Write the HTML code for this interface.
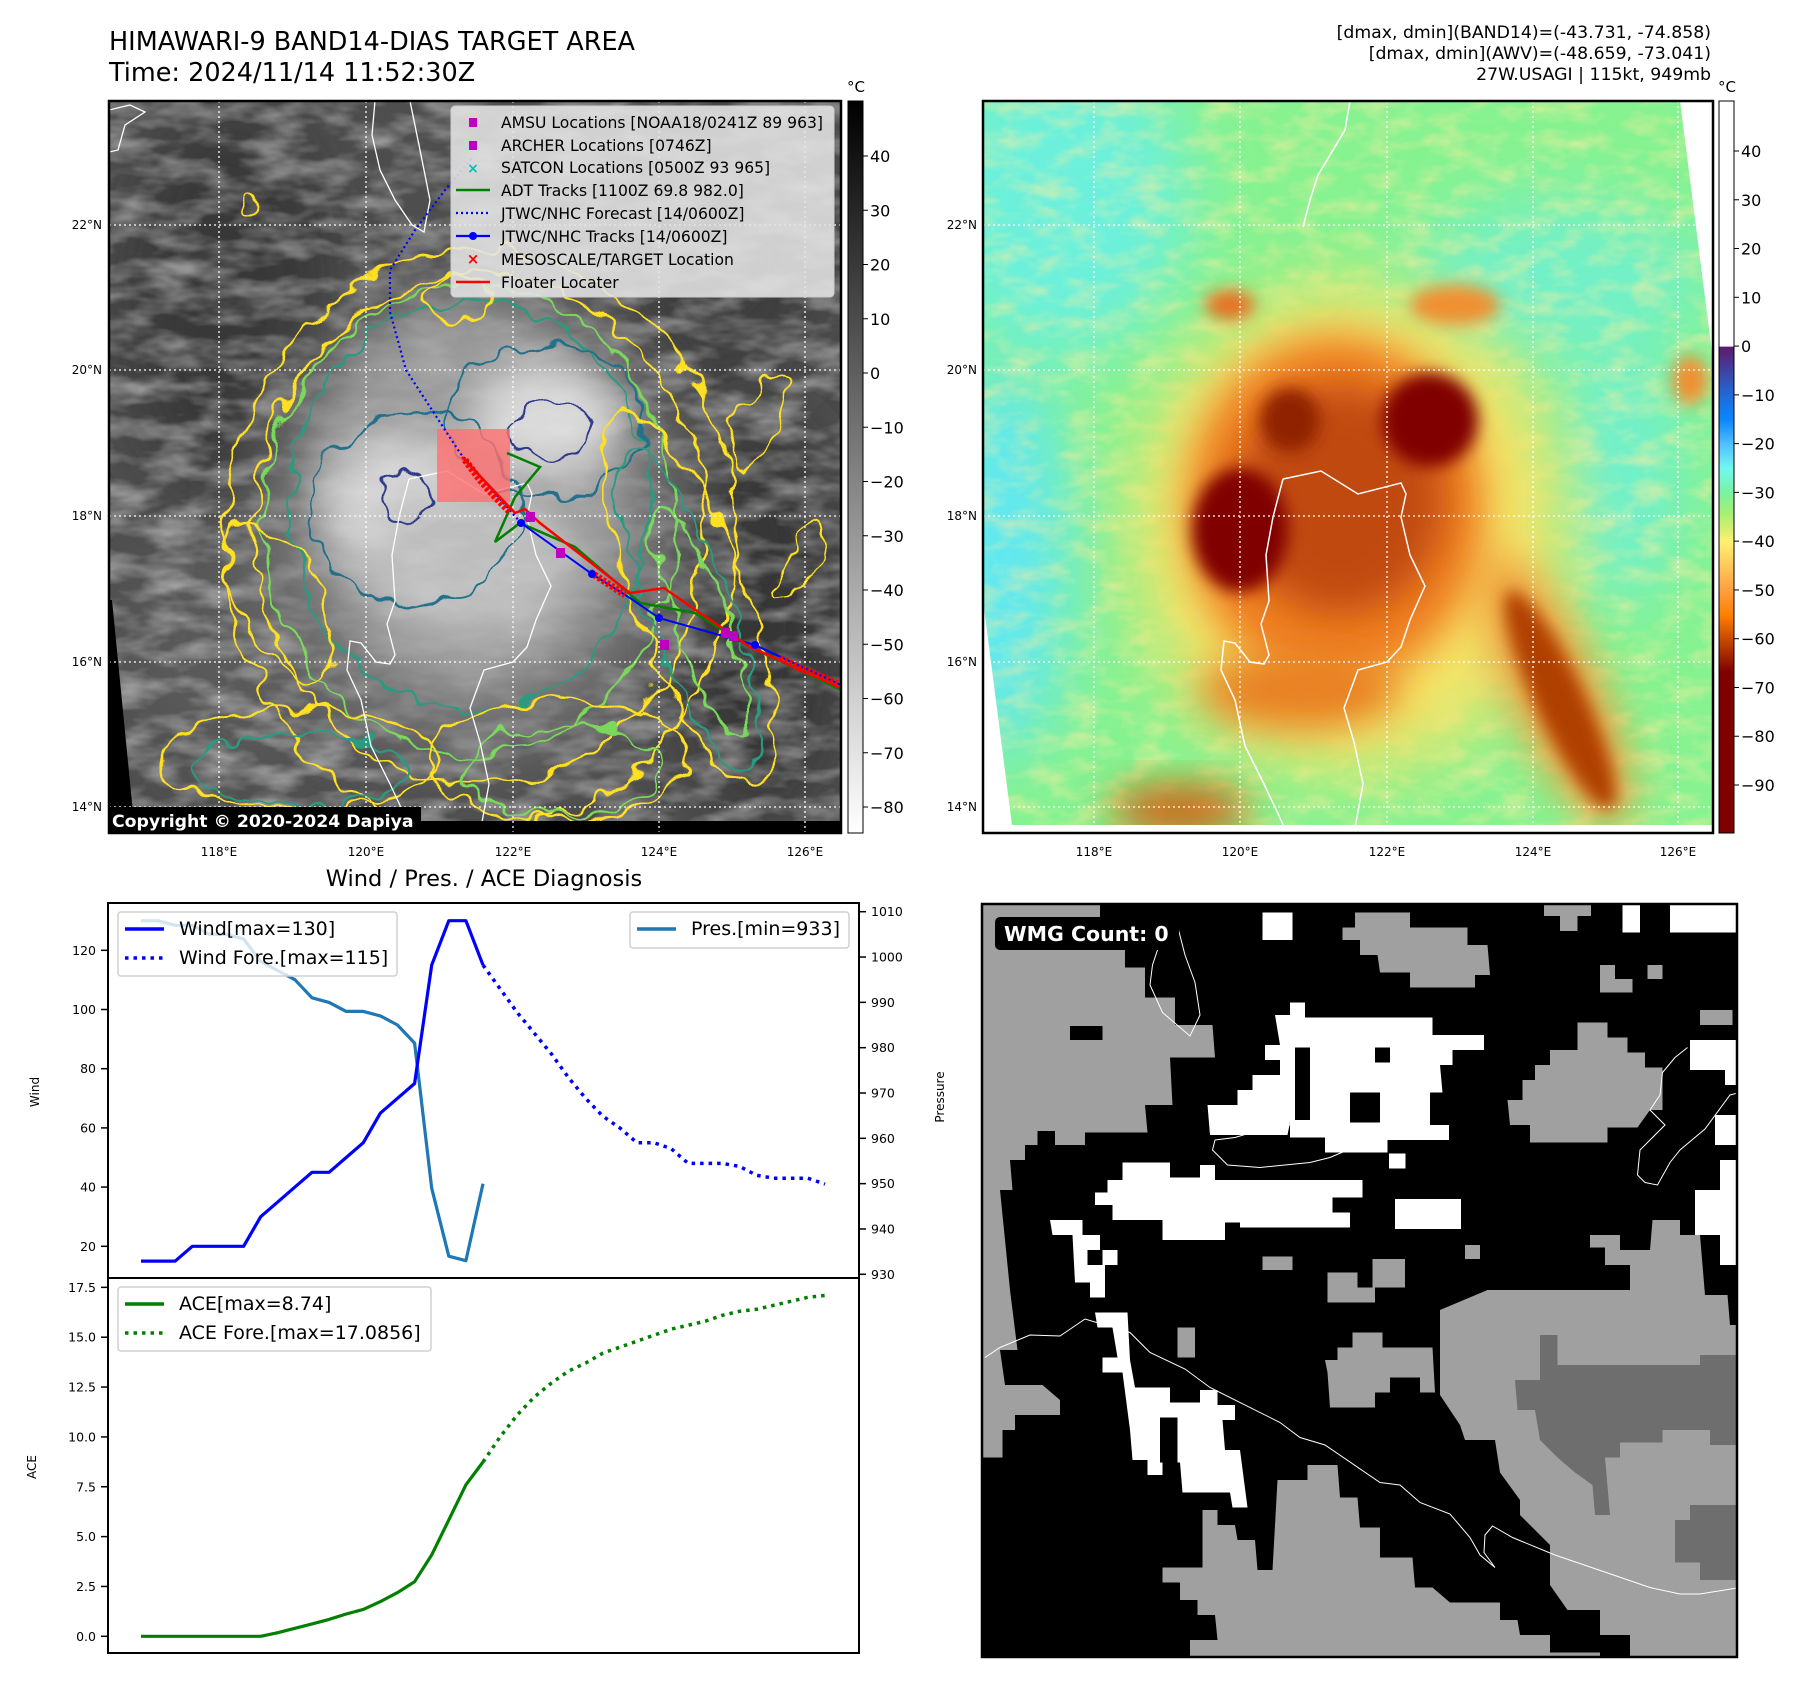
<!DOCTYPE html>
<html><head><meta charset="utf-8"><style>
html,body{margin:0;padding:0;background:#fff;}
svg{display:block;font-family:"DejaVu Sans","Liberation Sans",sans-serif;}
</style></head><body>
<svg id="fig" width="1801" height="1690" viewBox="0 0 1801 1690" xmlns="http://www.w3.org/2000/svg">
<defs>
<clipPath id="clipL"><rect x="109" y="101" width="732" height="732"/></clipPath>
<clipPath id="clipR"><rect x="983" y="101" width="730" height="732"/></clipPath>
<clipPath id="clipB"><rect x="982" y="904" width="755" height="753"/></clipPath>
<filter id="b8" x="-50%" y="-50%" width="200%" height="200%"><feGaussianBlur stdDeviation="8"/></filter>
<filter id="b20" x="-50%" y="-50%" width="200%" height="200%"><feGaussianBlur stdDeviation="20"/></filter>
<filter id="b35" x="-50%" y="-50%" width="200%" height="200%"><feGaussianBlur stdDeviation="35"/></filter>
<filter id="wob" x="-30%" y="-30%" width="160%" height="160%"><feTurbulence type="fractalNoise" baseFrequency="0.035" numOctaves="2" seed="4"/><feDisplacementMap in="SourceGraphic" scale="30" xChannelSelector="R" yChannelSelector="G"/></filter>
<filter id="noiseG" x="0" y="0" width="100%" height="100%"><feTurbulence type="fractalNoise" baseFrequency="0.02 0.05" numOctaves="3" seed="7"/><feColorMatrix type="matrix" values="0 0 0 0 1  0 0 0 0 1  0 0 0 0 1  1.2 0 0 0 -0.45"/></filter>
<filter id="noiseO" x="0" y="0" width="100%" height="100%"><feTurbulence type="fractalNoise" baseFrequency="0.03 0.06" numOctaves="3" seed="2"/><feColorMatrix type="matrix" values="0 0 0 0 1  0 0 0 0 0.85  0 0 0 0 0.35  1.6 0 0 0 -0.65"/></filter>
<linearGradient id="cbL" x1="0" y1="0" x2="0" y2="1"><stop offset="0" stop-color="#000"/><stop offset="1" stop-color="#fff"/></linearGradient>
<linearGradient id="cbR" x1="0" y1="0" x2="0" y2="1">
<stop offset="0" stop-color="#fff"/><stop offset="0.335" stop-color="#fff"/>
<stop offset="0.336" stop-color="#5e1a6e"/><stop offset="0.402" stop-color="#1f6ad8"/>
<stop offset="0.435" stop-color="#0a86ff"/><stop offset="0.469" stop-color="#50c0ff"/>
<stop offset="0.502" stop-color="#70f8f0"/><stop offset="0.535" stop-color="#78f4a0"/>
<stop offset="0.565" stop-color="#a8f070"/><stop offset="0.602" stop-color="#fff070"/>
<stop offset="0.668" stop-color="#ffa040"/><stop offset="0.702" stop-color="#ff8000"/>
<stop offset="0.735" stop-color="#c84a00"/><stop offset="0.78" stop-color="#800000"/>
<stop offset="1" stop-color="#800000"/></linearGradient>
</defs>

<!-- titles -->
<text x="109" y="50" font-size="25.5">HIMAWARI-9 BAND14-DIAS TARGET AREA</text>
<text x="109" y="81" font-size="25.5">Time: 2024/11/14 11:52:30Z</text>
<g font-size="17.3" text-anchor="end">
<text x="1711" y="38">[dmax, dmin](BAND14)=(-43.731, -74.858)</text>
<text x="1711" y="59">[dmax, dmin](AWV)=(-48.659, -73.041)</text>
<text x="1711" y="80">27W.USAGI | 115kt, 949mb</text>
</g>

<!-- LEFT MAP -->
<g clip-path="url(#clipL)">
<rect x="109" y="101" width="732" height="732" fill="#4e4e4e"/>
<ellipse cx="230" cy="300" rx="110" ry="200" fill="#383838" filter="url(#b35)"/>
<ellipse cx="720" cy="250" rx="110" ry="140" fill="#3c3c3c" filter="url(#b35)"/>
<ellipse cx="760" cy="620" rx="80" ry="200" fill="#363636" filter="url(#b35)"/>
<ellipse cx="250" cy="650" rx="130" ry="120" fill="#5a5a5a" filter="url(#b35)"/>
<rect x="109" y="101" width="732" height="732" filter="url(#noiseG)" opacity="0.6"/>
<ellipse cx="470" cy="520" rx="210" ry="240" fill="#747474" filter="url(#b35)"/>
<ellipse cx="470" cy="500" rx="160" ry="190" fill="#9a9a9a" filter="url(#b20)"/>
<ellipse cx="545" cy="420" rx="75" ry="55" fill="#d8d8d8" filter="url(#b20)"/>
<ellipse cx="405" cy="505" rx="80" ry="70" fill="#d4d4d4" filter="url(#b20)"/>
<ellipse cx="470" cy="560" rx="105" ry="75" fill="#bdbdbd" filter="url(#b20)"/>
<rect x="109" y="101" width="732" height="732" filter="url(#noiseG)" opacity="0.25"/>
<g fill="none" filter="url(#wob)">
<ellipse cx="480" cy="540" rx="255" ry="290" stroke="#ffe020" stroke-width="2.5"/>
<ellipse cx="480" cy="530" rx="225" ry="255" stroke="#ffe020" stroke-width="2.5"/>
<ellipse cx="470" cy="520" rx="205" ry="235" stroke="#7ad85a" stroke-width="2.5"/>
<ellipse cx="470" cy="505" rx="180" ry="205" stroke="#2a9a80" stroke-width="2.5"/>
<ellipse cx="545" cy="420" rx="100" ry="75" stroke="#20708a" stroke-width="2.5"/>
<ellipse cx="415" cy="510" rx="105" ry="95" stroke="#20708a" stroke-width="2.5"/>
<ellipse cx="545" cy="430" rx="40" ry="30" stroke="#303a8a" stroke-width="2.5"/>
<ellipse cx="405" cy="495" rx="22" ry="30" stroke="#303a8a" stroke-width="2.5"/>
<ellipse cx="690" cy="600" rx="55" ry="200" transform="rotate(-20 690 600)" stroke="#ffe020" stroke-width="2.5"/>
<ellipse cx="690" cy="610" rx="40" ry="170" transform="rotate(-20 690 610)" stroke="#2a9a80" stroke-width="2.5"/>
<ellipse cx="700" cy="620" rx="25" ry="120" transform="rotate(-20 700 620)" stroke="#7ad85a" stroke-width="2.5"/>
<ellipse cx="300" cy="760" rx="140" ry="50" stroke="#ffe020" stroke-width="2.5"/>
<ellipse cx="560" cy="760" rx="130" ry="60" stroke="#ffe020" stroke-width="2.5"/>
<ellipse cx="560" cy="770" rx="100" ry="45" stroke="#7ad85a" stroke-width="2.5"/>
<ellipse cx="300" cy="770" rx="110" ry="35" stroke="#2a9a80" stroke-width="2.5"/>
<ellipse cx="280" cy="600" rx="40" ry="90" transform="rotate(-30 280 600)" stroke="#ffe020" stroke-width="2.5"/>
<ellipse cx="460" cy="300" rx="30" ry="22" stroke="#ffe020" stroke-width="2.5"/>
<ellipse cx="250" cy="205" rx="6" ry="10" stroke="#ffe020" stroke-width="2"/>
<ellipse cx="760" cy="420" rx="20" ry="50" transform="rotate(30 760 420)" stroke="#ffe020" stroke-width="2"/>
<ellipse cx="800" cy="560" rx="15" ry="45" transform="rotate(30 800 560)" stroke="#ffe020" stroke-width="2"/>
</g>
<g fill="none" stroke="#fff" stroke-width="1.3">
<path d="M375,101 L372,135 L380,170 L395,200 L412,225 L424,232 L430,200 L420,150 L410,101"/>
<path d="M109,110 L130,105 L145,112 L125,125 L118,150 L109,152"/>
</g>
<g transform="translate(-874,0)" fill="none" stroke="#fff" stroke-width="1.3">
<path d="M1283,479 L1321,471 L1358,494 L1401,483 L1406,494 L1401,517 L1410,555 L1425,586 L1410,620 L1401,647 L1387,662 L1358,670 L1344,708 L1354,742 L1363,784 L1354,833"/>
<path d="M1283,479 L1273,517 L1266,555 L1269,601 L1261,624 L1269,655 L1264,664 L1250,662 L1235,643 L1224,641 L1221,670 L1235,700 L1245,746 L1264,784 L1287,833"/>
</g>
<polygon points="109,600 112,600 135,833 109,833" fill="#000"/>
<rect x="109" y="821" width="732" height="12" fill="#000"/>
<g stroke="#fff" stroke-width="1.3" stroke-dasharray="2,3">
<line x1="109" x2="841" y1="225" y2="225"/><line x1="109" x2="841" y1="370" y2="370"/><line x1="109" x2="841" y1="516" y2="516"/><line x1="109" x2="841" y1="662" y2="662"/><line x1="109" x2="841" y1="807" y2="807"/>
<line y1="101" y2="833" x1="219" x2="219"/><line y1="101" y2="833" x1="366" x2="366"/><line y1="101" y2="833" x1="513" x2="513"/><line y1="101" y2="833" x1="659" x2="659"/><line y1="101" y2="833" x1="805" x2="805"/>
</g>
<rect x="437" y="429" width="73" height="73" fill="#ff7070" opacity="0.8"/>
<polyline points="521,523 460,453 406,370 390,312 390,270 415,230 445,190 473,157" fill="none" stroke="#0000ff" stroke-width="2.2" stroke-dasharray="2,3"/>
<polyline points="507,453 540,467 515,497 495,542 520,523 575,547 640,603 695,613 750,647 841,690" fill="none" stroke="#008000" stroke-width="2.5"/>
<polyline points="521,523 592,574 630,598 659,618 755,645 841,685" fill="none" stroke="#0000ff" stroke-width="2"/>
<polyline points="462,457 515,513 525,509 540,523 630,593 664,588 700,613 750,647 841,688" fill="none" stroke="#ff0000" stroke-width="2.5"/>
<polyline points="465,460 480,480 495,497 510,512" fill="none" stroke="#ff0000" stroke-width="7" stroke-dasharray="3,2"/>
<polyline points="590,572 610,585 625,595" fill="none" stroke="#ff0000" stroke-width="7" stroke-dasharray="3,2"/>
<polyline points="780,658 800,668 820,676 838,684" fill="none" stroke="#ff0000" stroke-width="7" stroke-dasharray="3,2"/>
<circle cx="521" cy="523" r="4" fill="#0000ff"/><circle cx="592" cy="574" r="4" fill="#0000ff"/><circle cx="659" cy="618" r="4" fill="#0000ff"/><circle cx="755" cy="645" r="4" fill="#0000ff"/>
<g fill="#c000c0"><rect x="526" y="512" width="9" height="10"/><rect x="556" y="548" width="9" height="10"/><rect x="660" y="640" width="9" height="10"/><rect x="721" y="628" width="9" height="10"/><rect x="729" y="631" width="9" height="10"/></g>
</g>
<rect x="109" y="101" width="732" height="732" fill="none" stroke="#000" stroke-width="2.5"/>
<rect x="109" y="807" width="312" height="26" fill="#000"/>
<text x="112" y="827" font-size="17.3" font-weight="bold" fill="#fff">Copyright © 2020-2024 Dapiya</text>

<!-- left map legend -->
<g>
<rect x="451" y="106" width="383" height="191" rx="4" fill="#e4e4e4" fill-opacity="0.88" stroke="#ccc"/>
<g font-size="15.6" fill="#000">
<rect x="469" y="118" width="8" height="9" fill="#c000c0"/><text x="501" y="128">AMSU Locations [NOAA18/0241Z 89 963]</text>
<rect x="469" y="141" width="8" height="9" fill="#c000c0"/><text x="501" y="151">ARCHER Locations [0746Z]</text>
<text x="473" y="173" fill="#00c0c0" font-size="14" text-anchor="middle" font-weight="bold">×</text><text x="501" y="173">SATCON Locations [0500Z 93 965]</text>
<line x1="456" x2="490" y1="190" y2="190" stroke="#008000" stroke-width="2.5"/><text x="501" y="196">ADT Tracks [1100Z 69.8 982.0]</text>
<line x1="456" x2="490" y1="213" y2="213" stroke="#0000ff" stroke-width="2.2" stroke-dasharray="2,3"/><text x="501" y="219">JTWC/NHC Forecast [14/0600Z]</text>
<line x1="456" x2="490" y1="236" y2="236" stroke="#0000ff" stroke-width="2.2"/><circle cx="473" cy="236" r="4" fill="#0000ff"/><text x="501" y="242">JTWC/NHC Tracks [14/0600Z]</text>
<text x="473" y="264" fill="#ff0000" font-size="15" text-anchor="middle" font-weight="bold">×</text><text x="501" y="265">MESOSCALE/TARGET Location</text>
<line x1="456" x2="490" y1="282" y2="282" stroke="#ff0000" stroke-width="2.5"/><text x="501" y="288">Floater Locater</text>
</g></g>

<!-- RIGHT MAP -->
<g clip-path="url(#clipR)">
<rect x="983" y="101" width="730" height="732" fill="#86f290"/>
<ellipse cx="1060" cy="200" rx="130" ry="160" fill="#6cf0dc" filter="url(#b35)"/>
<ellipse cx="1000" cy="560" rx="70" ry="200" fill="#60e8f2" filter="url(#b35)"/>
<ellipse cx="1560" cy="280" rx="150" ry="80" fill="#72f0c8" filter="url(#b35)"/>
<ellipse cx="1620" cy="470" rx="60" ry="140" fill="#6ef0d0" filter="url(#b35)"/>
<rect x="983" y="101" width="730" height="732" filter="url(#noiseO)" opacity="0.7"/>
<ellipse cx="1350" cy="530" rx="215" ry="240" fill="#f6e468" filter="url(#b35)"/>
<ellipse cx="1555" cy="690" rx="45" ry="150" transform="rotate(-25 1555 690)" fill="#f0a040" filter="url(#b20)"/>
<ellipse cx="1560" cy="700" rx="25" ry="120" transform="rotate(-25 1560 700)" fill="#b04000" filter="url(#b8)"/>
<ellipse cx="1180" cy="810" rx="70" ry="25" fill="#d06010" filter="url(#b20)"/>
<ellipse cx="1335" cy="510" rx="150" ry="175" fill="#f08020" filter="url(#b20)"/>
<ellipse cx="1300" cy="690" rx="100" ry="40" fill="#e88020" filter="url(#b20)"/>
<ellipse cx="1340" cy="500" rx="105" ry="115" fill="#b84008" filter="url(#b20)" opacity="0.85"/>
<ellipse cx="1430" cy="420" rx="48" ry="47" fill="#800000" filter="url(#b8)"/>
<ellipse cx="1240" cy="530" rx="48" ry="62" fill="#800000" filter="url(#b8)"/>
<ellipse cx="1290" cy="420" rx="30" ry="32" fill="#902000" filter="url(#b8)"/>
<ellipse cx="1455" cy="305" rx="45" ry="20" fill="#f09030" filter="url(#b8)"/>
<ellipse cx="1230" cy="305" rx="25" ry="15" fill="#e87020" filter="url(#b8)"/>
<ellipse cx="1690" cy="380" rx="18" ry="25" fill="#f09030" filter="url(#b8)"/>
<g fill="none" stroke="#fff" stroke-width="1.5">
<path d="M1283,479 L1321,471 L1358,494 L1401,483 L1406,494 L1401,517 L1410,555 L1425,586 L1410,620 L1401,647 L1387,662 L1358,670 L1344,708 L1354,742 L1363,784 L1354,833"/>
<path d="M1283,479 L1273,517 L1266,555 L1269,601 L1261,624 L1269,655 L1264,664 L1250,662 L1235,643 L1224,641 L1221,670 L1235,700 L1245,746 L1264,784 L1287,833"/>
<path d="M1350,101 L1345,130 L1330,155 L1318,175 L1310,200 L1303,227"/>
</g>
<polygon points="1680,101 1713,101 1713,360" fill="#fff"/>
<polygon points="983,600 983,833 1013,833" fill="#fff"/>
<rect x="983" y="825" width="730" height="8" fill="#fff"/>
<g stroke="#fff" stroke-width="1.3" stroke-dasharray="2,3">
<line x1="983" x2="1713" y1="225" y2="225"/><line x1="983" x2="1713" y1="370" y2="370"/><line x1="983" x2="1713" y1="516" y2="516"/><line x1="983" x2="1713" y1="662" y2="662"/><line x1="983" x2="1713" y1="807" y2="807"/>
<line y1="101" y2="833" x1="1094" x2="1094"/><line y1="101" y2="833" x1="1240" x2="1240"/><line y1="101" y2="833" x1="1387" x2="1387"/><line y1="101" y2="833" x1="1533" x2="1533"/><line y1="101" y2="833" x1="1678" x2="1678"/>
</g>
</g>
<rect x="983" y="101" width="730" height="732" fill="none" stroke="#000" stroke-width="2.5"/>

<g font-size="12" text-anchor="end">
<text x="102" y="229">22°N</text><text x="102" y="374">20°N</text><text x="102" y="520">18°N</text><text x="102" y="666">16°N</text><text x="102" y="811">14°N</text>
<text x="977" y="229">22°N</text><text x="977" y="374">20°N</text><text x="977" y="520">18°N</text><text x="977" y="666">16°N</text><text x="977" y="811">14°N</text>
</g>
<g font-size="12" text-anchor="middle">
<text x="219" y="856">118°E</text><text x="366" y="856">120°E</text><text x="513" y="856">122°E</text><text x="659" y="856">124°E</text><text x="805" y="856">126°E</text>
<text x="1094" y="856">118°E</text><text x="1240" y="856">120°E</text><text x="1387" y="856">122°E</text><text x="1533" y="856">124°E</text><text x="1678" y="856">126°E</text>
</g>

<rect x="848" y="101" width="15" height="732" fill="url(#cbL)" stroke="#000" stroke-width="1"/>
<text x="856" y="92" font-size="15" text-anchor="middle">°C</text>
<rect x="1719" y="101" width="15" height="732" fill="url(#cbR)" stroke="#000" stroke-width="1"/>
<text x="1727" y="92" font-size="15" text-anchor="middle">°C</text>
<g id="cbTicks"></g>

<!-- BOTTOM RIGHT WMG MAP -->
<g clip-path="url(#clipB)">
<rect x="982" y="904" width="755" height="753" fill="#000"/>
<g transform="translate(980,890) scale(0.5)">
<g fill="#a0a0a0">
<polygon points="5,30 240,30 240,55 290,55 290,155 330,155 330,185 390,185 390,270 465,270 470,335 380,335 385,430 330,430 335,485 210,485 210,510 150,510 150,482 115,482 115,510 90,510 90,540 60,540 65,600 40,600 50,700 60,800 75,920 40,920 50,990 125,990 160,1020 160,1050 70,1050 70,1080 45,1080 45,1135 5,1135"/>
<polygon points="750,45 860,45 860,75 975,75 975,110 1015,110 1020,170 990,170 990,195 860,195 860,165 800,165 795,130 760,130 760,100 725,100 725,75 750,75"/>
<rect x="1128" y="30" width="94" height="22"/><rect x="1160" y="50" width="35" height="32"/>
<polygon points="1240,150 1270,150 1270,178 1305,178 1305,205 1240,205"/><rect x="1335" y="150" width="30" height="28"/><rect x="1440" y="240" width="65" height="30"/>
<polygon points="1195,265 1255,265 1255,295 1295,295 1295,325 1330,325 1330,355 1365,355 1365,440 1340,440 1315,475 1255,475 1255,505 1100,505 1100,470 1060,470 1055,420 1085,420 1085,380 1110,380 1110,350 1140,350 1140,320 1195,320"/>
<polygon points="1345,660 1400,660 1400,690 1440,690 1450,810 1495,810 1500,870 1520,870 1520,1540 1300,1540 1300,1490 1240,1490 1240,1440 1175,1440 1140,1390 1140,1310 1080,1250 1080,1220 1040,1165 1030,1100 970,1100 960,1070 920,1010 920,840 1015,800 1300,800 1300,750 1250,750 1250,715 1220,715 1220,690 1280,690 1280,720 1340,720"/>
<polygon points="445,1240 475,1240 475,1270 510,1270 515,1300 550,1300 555,1360 585,1360 595,1180 655,1180 655,1150 715,1150 720,1215 755,1215 760,1275 800,1275 800,1335 865,1335 870,1395 905,1395 940,1425 1040,1425 1040,1460 1075,1460 1080,1490 1140,1490 1140,1525 1240,1525 1240,1540 420,1540 420,1500 475,1500 470,1450 435,1450 435,1420 400,1420 400,1385 365,1385 365,1355 445,1355"/>
<rect x="565" y="733" width="60" height="27"/><rect x="695" y="765" width="60" height="60"/><rect x="785" y="738" width="65" height="57"/><rect x="755" y="795" width="35" height="30"/><rect x="970" y="710" width="30" height="28"/><rect x="395" y="875" width="35" height="60"/>
<polygon points="745,885 805,885 805,915 905,915 910,1005 880,1005 880,975 820,975 820,1005 790,1005 790,1035 700,1035 695,965 690,940 715,940 715,915 745,915"/>
</g>
<g fill="#6e6e6e">
<polygon points="1070,980 1120,980 1120,890 1155,890 1155,950 1440,950 1440,930 1520,930 1520,1110 1460,1110 1460,1080 1365,1080 1365,1105 1280,1105 1280,1135 1250,1135 1260,1250 1230,1250 1225,1190 1190,1165 1155,1135 1120,1100 1110,1040 1075,1040"/>
<polygon points="1420,1230 1520,1230 1520,1380 1440,1380 1440,1345 1390,1345 1390,1260 1420,1260"/>
</g>
<g fill="#000"><rect x="180" y="272" width="65" height="28"/><rect x="330" y="185" width="60" height="30"/></g>
<g fill="#fff">
<polygon points="590,250 620,250 620,225 650,225 650,255 905,255 905,290 1008,290 1008,320 945,320 945,350 920,350 925,405 900,405 900,470 938,470 938,500 815,500 815,525 690,525 690,495 620,495 620,465 615,490 460,490 455,430 515,430 515,400 545,400 545,370 600,370 600,340 570,340 570,310 600,310"/>
<polygon points="285,545 380,545 380,575 440,575 440,550 470,550 470,580 765,580 765,615 705,615 705,645 740,645 740,675 520,675 520,665 490,665 490,700 365,700 365,660 265,660 265,630 230,630 230,605 255,605 255,580 285,580"/>
<rect x="830" y="618" width="132" height="60"/>
<polygon points="140,660 205,660 205,690 240,690 240,720 275,720 275,750 250,750 250,815 220,815 220,785 190,785 185,690 145,690"/>
<polygon points="230,845 295,845 300,940 310,995 380,995 380,1025 440,1025 440,1000 475,1000 475,1030 510,1030 510,1060 485,1060 490,1120 520,1120 535,1235 505,1235 500,1205 405,1205 400,1145 365,1145 365,1170 335,1170 335,1140 305,1140 300,1080 285,965 245,965 245,935 275,935 265,875 235,875"/>
<rect x="1380" y="30" width="140" height="55"/><rect x="1285" y="30" width="35" height="55"/>
<polygon points="1420,300 1520,300 1520,390 1490,390 1490,360 1420,360"/><rect x="1470" y="450" width="50" height="60"/>
<polygon points="1480,540 1520,540 1520,750 1480,750 1480,690 1430,690 1430,600 1480,600"/>
<rect x="565" y="45" width="60" height="55"/><rect x="818" y="527" width="33" height="30"/>
</g>
<g fill="#000"><rect x="630" y="315" width="30" height="145"/><rect x="790" y="315" width="30" height="30"/><rect x="740" y="405" width="60" height="60"/><rect x="215" y="720" width="30" height="30"/><rect x="705" y="615" width="30" height="30"/><rect x="360" y="1055" width="35" height="90"/></g>
<g fill="none" stroke="#fff" stroke-width="2">
<path d="M10,935 L40,915 L100,890 L160,892 L210,858 L300,885 L340,925 L410,958 L460,995 L600,1065 L640,1095 L690,1110 L800,1185 L840,1190 L880,1225 L940,1248 L980,1295 L1000,1330 L1030,1355 L1008,1325 L1010,1290 L1025,1272 L1065,1295 L1150,1330 L1340,1395 L1400,1408 L1440,1408 L1520,1395"/>
<path d="M395,72 L410,130 L430,185 L440,250 L420,292 L365,245 L340,190 L345,150 L355,120"/>
<path d="M1415,315 L1390,335 L1365,365 L1360,410 L1340,440 L1370,470 L1320,520 L1315,570 L1330,585 L1355,590 L1380,545 L1400,520 L1450,478 L1500,410 L1520,405"/>
<path d="M470,500 L510,495 L560,480 L620,470 L680,460 M470,500 L465,520 L495,550 L560,555 L660,545 L700,535 L735,520"/>
</g>
</g>
<rect x="995" y="917" width="184" height="33" rx="5" fill="#000"/>
<text x="1004" y="941" font-size="20.5" font-weight="bold" fill="#fff">WMG Count: 0</text>
</g>
<rect x="982" y="904" width="755" height="753" fill="none" stroke="#000" stroke-width="2.5"/>

<!-- BOTTOM LEFT CHARTS -->
<text x="484" y="886" font-size="22.5" text-anchor="middle">Wind / Pres. / ACE Diagnosis</text>
<g id="chart"></g>
<rect x="108" y="903" width="751" height="375" fill="none" stroke="#000" stroke-width="2"/>
<rect x="108" y="1278" width="751" height="375" fill="none" stroke="#000" stroke-width="2"/>
<text transform="translate(39,1092) rotate(-90)" font-size="12" text-anchor="middle">Wind</text>
<text transform="translate(944,1097) rotate(-90)" font-size="12" text-anchor="middle">Pressure</text>
<text transform="translate(36,1467) rotate(-90)" font-size="12" text-anchor="middle">ACE</text>
</svg>
<script>
const windObs = [15,15,15,20,20,20,20,30,35,40,45,45,50,55,65,70,75,115,130,130,115];
const windFore = [115,107,99,92,85,77,70,64,60,55,55,53,48,48,48,47,44,43,43,43,41];
const presObs = [1008,1008,1007,1007,1005,1005,1004,999,997,995,991,990,988,988,987,985,981,949,934,933,950];
const aceObs = [0,0,0,0,0,0,0,0,0.18,0.4,0.62,0.85,1.12,1.35,1.74,2.19,2.74,4.08,5.84,7.6,8.74];
const aceFore = [8.74,10.0,11.1,12.0,12.7,13.3,13.7,14.2,14.5,14.8,15.1,15.4,15.6,15.8,16.1,16.3,16.4,16.6,16.8,17.0,17.09];
const windTicks = [20,40,60,80,100,120];
const presTicks = [930,940,950,960,970,980,990,1000,1010];
const aceTicks = [0,2.5,5,7.5,10,12.5,15,17.5];
const cbLeftTicks = [40,30,20,10,0,-10,-20,-30,-40,-50,-60,-70,-80];
const cbRightTicks = [40,30,20,10,0,-10,-20,-30,-40,-50,-60,-70,-80,-90];

const NS = 'http://www.w3.org/2000/svg';
function xS(i){ return 141 + i * 17.1; }
function yWind(v){ return 950.3 - (v - 120) * 2.96; }
function yPres(v){ return 911.7 + (1010 - v) * 4.5325; }
function yAce(v){ return 1636.3 - v * 19.94; }
function yCbL(v){ return 156 + (40 - v) * 5.425; }
function yCbR(v){ return 151 + (40 - v) * 4.877; }
function mk(tag, attrs, parent){ const e = document.createElementNS(NS, tag); for (const k in attrs) e.setAttribute(k, attrs[k]); parent.appendChild(e); return e; }
function fmt(v){ return (v < 0 ? '\u2212' + Math.abs(v) : String(v)); }

const chart = document.getElementById('chart');
const cbg = document.getElementById('cbTicks');

cbLeftTicks.forEach(v => {
  const y = yCbL(v);
  const t = mk('line', {x1:863, x2:868, y1:y, y2:y, stroke:'#000', 'stroke-width':1}, cbg);
  
  
  const l = mk('text', {x:870, y:y+6, 'font-size':16}, cbg);
  l.textContent = fmt(v);
  
  
});
cbRightTicks.forEach(v => {
  const y = yCbR(v);
  const t = mk('line', {x1:1734, x2:1739, y1:y, y2:y, stroke:'#000', 'stroke-width':1}, cbg);
  
  
  const l = mk('text', {x:1741, y:y+6, 'font-size':16}, cbg);
  l.textContent = fmt(v);
  
  
});

windTicks.forEach(v => {
  const y = yWind(v);
  const t = mk('line', {x1:101, x2:108, y1:y, y2:y, stroke:'#000', 'stroke-width':1.5}, chart);
  
  
  const l = mk('text', {x:96, y:y+4.5, 'font-size':12.5, 'text-anchor':'end'}, chart);
  l.textContent = v;
  
  
});
presTicks.forEach(v => {
  const y = yPres(v);
  const t = mk('line', {x1:859, x2:866, y1:y, y2:y, stroke:'#000', 'stroke-width':1.5}, chart);
  
  
  const l = mk('text', {x:871, y:y+4.5, 'font-size':12.5}, chart);
  l.textContent = v;
  
  
});
aceTicks.forEach(v => {
  const y = yAce(v);
  const t = mk('line', {x1:101, x2:108, y1:y, y2:y, stroke:'#000', 'stroke-width':1.5}, chart);
  
  
  const l = mk('text', {x:96, y:y+4.5, 'font-size':12.5, 'text-anchor':'end'}, chart);
  l.textContent = v.toFixed(1);
  
  
});

function pts(arr, off, yf){ return arr.map((v,i) => xS(i + off).toFixed(1) + ',' + yf(v).toFixed(1)).join(' '); }

const pres = mk('polyline', {points:pts(presObs,0,yPres), fill:'none', stroke:'#1f77b4', 'stroke-width':3.2, 'stroke-linejoin':'round'}, chart);


const wind = mk('polyline', {points:pts(windObs,0,yWind), fill:'none', stroke:'#0000ff', 'stroke-width':3.2, 'stroke-linejoin':'round'}, chart);


const windF = mk('polyline', {points:pts(windFore,20,yWind), fill:'none', stroke:'#0000ff', 'stroke-width':3.5, 'stroke-dasharray':'3.5,5'}, chart);


const ace = mk('polyline', {points:pts(aceObs,0,yAce), fill:'none', stroke:'#008000', 'stroke-width':3.2, 'stroke-linejoin':'round'}, chart);


const aceF = mk('polyline', {points:pts(aceFore,20,yAce), fill:'none', stroke:'#008000', 'stroke-width':3.5, 'stroke-dasharray':'3.5,5'}, chart);



function legend(x, y, w, h, entries, name){
  const g = mk('g', {}, chart);
  
  
  mk('rect', {x:x, y:y, width:w, height:h, rx:3, fill:'#fff', 'fill-opacity':0.8, stroke:'#d0d0d0', 'stroke-width':1.5}, g);
  entries.forEach((e, k) => {
    const yy = y + 17 + k * 29;
    const ln = mk('line', {x1:x+7, x2:x+46, y1:yy, y2:yy, stroke:e.c, 'stroke-width':3.5}, g);
    if (e.d) ln.setAttribute('stroke-dasharray', '3.5,5');
    const t = mk('text', {x:x+61, y:yy+6, 'font-size':19}, g);
    t.textContent = e.t;
  });
}
legend(118, 912, 279, 64, [{c:'#0000ff', t:'Wind[max=130]'}, {c:'#0000ff', d:1, t:'Wind Fore.[max=115]'}], 'wind-legend');
legend(630, 912, 219, 36, [{c:'#1f77b4', t:'Pres.[min=933]'}], 'pressure-legend');
legend(118, 1287, 313, 64, [{c:'#008000', t:'ACE[max=8.74]'}, {c:'#008000', d:1, t:'ACE Fore.[max=17.0856]'}], 'ace-legend');
</script>
</body></html>
